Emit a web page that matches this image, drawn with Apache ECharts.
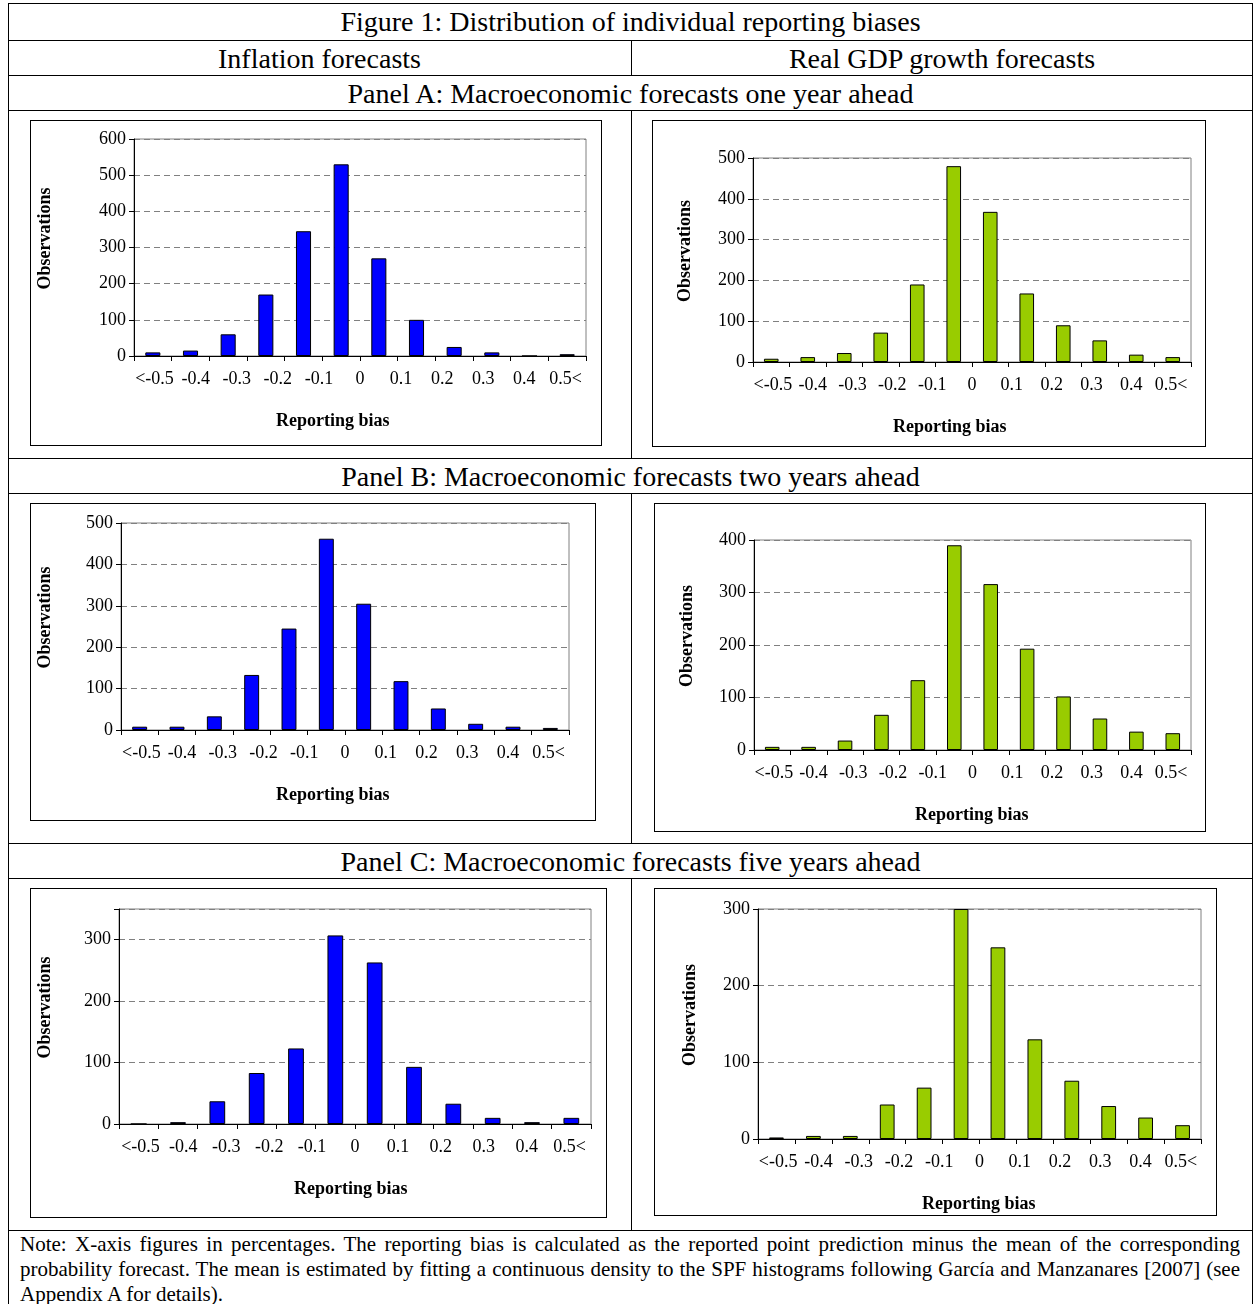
<!DOCTYPE html>
<html>
<head>
<meta charset="utf-8">
<script src="https://cdn.jsdelivr.net/npm/echarts@6/dist/echarts.min.js"></script>
<style>
body { margin: 0; background: #fff; font-family: 'Liberation Serif', 'Times New Roman', serif; }
.line { position: absolute; background: #000; }
.cap { position: absolute; text-align: center; font-size: 28px; line-height: 35px; }
.box { position: absolute; border: 1px solid #000; box-sizing: border-box; }
.note { position: absolute; left: 20px; top: 1232px; width: 1220px; font-size: 21px; line-height: 25px; text-align: justify; }
</style>
</head>
<body>
<div class="line" style="left:8px;top:3px;width:1245px;height:1px"></div>
<div class="line" style="left:8px;top:3px;width:1px;height:1301px"></div>
<div class="line" style="left:1252px;top:3px;width:1px;height:1301px"></div>
<div class="line" style="left:8px;top:40px;width:1245px;height:1px"></div>
<div class="line" style="left:8px;top:75px;width:1245px;height:1px"></div>
<div class="line" style="left:8px;top:110px;width:1245px;height:1px"></div>
<div class="line" style="left:8px;top:458px;width:1245px;height:1px"></div>
<div class="line" style="left:8px;top:493px;width:1245px;height:1px"></div>
<div class="line" style="left:8px;top:843px;width:1245px;height:1px"></div>
<div class="line" style="left:8px;top:878px;width:1245px;height:1px"></div>
<div class="line" style="left:8px;top:1230px;width:1245px;height:1px"></div>
<div class="line" style="left:631px;top:40px;width:1px;height:35px"></div>
<div class="line" style="left:631px;top:110px;width:1px;height:348px"></div>
<div class="line" style="left:631px;top:493px;width:1px;height:350px"></div>
<div class="line" style="left:631px;top:878px;width:1px;height:352px"></div>
<div class="cap" style="left:8px;top:4px;width:1245px">Figure 1: Distribution of individual reporting biases</div>
<div class="cap" style="left:8px;top:41px;width:623px">Inflation forecasts</div>
<div class="cap" style="left:631px;top:41px;width:622px">Real GDP growth forecasts</div>
<div class="cap" style="left:8px;top:76px;width:1245px">Panel A: Macroeconomic forecasts one year ahead</div>
<div class="cap" style="left:8px;top:459px;width:1245px">Panel B: Macroeconomic forecasts two years ahead</div>
<div class="cap" style="left:8px;top:844px;width:1245px">Panel C: Macroeconomic forecasts five years ahead</div>
<div class="note">Note: X-axis figures in percentages. The reporting bias is calculated as the reported point prediction minus the mean of the corresponding probability forecast. The mean is estimated by fitting a continuous density to the SPF histograms following García and Manzanares [2007] (see Appendix A for details).</div>
<div id="c0" class="box"></div>
<div id="c1" class="box"></div>
<div id="c2" class="box"></div>
<div id="c3" class="box"></div>
<div id="c4" class="box"></div>
<div id="c5" class="box"></div>
<script>
var bins = ['b1', 'b2', 'b3', 'b4', 'b5', 'b6', 'b7', 'b8', 'b9', 'b10', 'b11', 'b12'];
var tickLabels = ['<-0.5', '-0.4', '-0.3', '-0.2', '-0.1', '0', '0.1', '0.2', '0.3', '0.4', '0.5<'];
var inflA = [10, 15, 60, 170, 345, 530, 270, 100, 25, 10, 0, 5];
var gdpA = [8, 12, 22, 72, 190, 480, 368, 168, 90, 53, 18, 12];
var inflB = [8, 8, 33, 133, 245, 462, 305, 118, 52, 15, 8, 5];
var gdpB = [6, 6, 18, 67, 133, 390, 316, 193, 102, 60, 35, 32];
var inflC = [0, 3, 37, 83, 123, 307, 263, 93, 33, 10, 3, 10];
var gdpC = [2, 4, 4, 45, 67, 300, 250, 130, 76, 43, 28, 18];

var blue = '#0000ff';
var green = '#99cc00';

// box: x, y, w, h ; plot: x1, y1, x2, y2 (page coords)
var charts = [
    { data: inflA, color: blue, box: [30, 120, 572, 326], plot: [133, 138, 585, 355], max: 600, yName: 35, xName: 300 },
    { data: gdpA, color: green, box: [652, 120, 554, 327], plot: [752, 157, 1190, 361], max: 500, yName: 675, xName: 295 },
    { data: inflB, color: blue, box: [30, 503, 566, 318], plot: [120, 522, 568, 729], max: 500, yName: 35, xName: 300 },
    { data: gdpB, color: green, box: [654, 503, 552, 329], plot: [753, 539, 1190, 749], max: 400, yName: 677, xName: 315 },
    { data: inflC, color: blue, box: [30, 888, 577, 330], plot: [118, 908, 590, 1123], max: 350, yName: 35, xName: 318 },
    { data: gdpC, color: green, box: [654, 888, 563, 328], plot: [757, 908, 1200, 1138], max: 300, yName: 680, xName: 322 }
];

var font = 'Liberation Serif';

charts.forEach(function (c, i) {
    var el = document.getElementById('c' + i);
    el.style.left = c.box[0] + 'px';
    el.style.top = c.box[1] + 'px';
    el.style.width = c.box[2] + 'px';
    el.style.height = c.box[3] + 'px';
    var chart = echarts.init(el);
    var bx = c.box[0], by = c.box[1];
    var plotH = c.plot[3] - c.plot[1];
    chart.setOption({
        animation: false,
        textStyle: { fontFamily: font },
        grid: {
            left: c.plot[0] - bx,
            top: c.plot[1] - by,
            width: c.plot[2] - c.plot[0],
            height: plotH,
            show: true,
            borderColor: '#808080',
            borderWidth: 1
        },
        xAxis: [{
            type: 'category',
            data: bins,
            axisLine: { lineStyle: { color: '#000' } },
            axisTick: { show: true, length: 5, lineStyle: { color: '#000' } },
            axisLabel: { show: false }
        }, {
            type: 'category',
            data: tickLabels,
            position: 'bottom',
            axisLine: { show: false },
            axisTick: { show: false },
            axisLabel: { color: '#000', fontSize: 18, fontFamily: font, margin: 14, interval: 0 }
        }],
        yAxis: {
            type: 'value',
            min: 0,
            max: c.max,
            interval: 100,
            axisLine: { show: true, lineStyle: { color: '#000' } },
            axisTick: { show: true, length: 5, lineStyle: { color: '#000' } },
            axisLabel: {
                color: '#000', fontSize: 18, fontFamily: font, margin: 8,
                formatter: function (v) { return v % 100 === 0 ? v : ''; }
            },
            splitLine: { lineStyle: { color: '#808080', type: [6, 4] } }
        },
        graphic: [{
            type: 'text',
            left: c.yName - bx,
            top: c.plot[1] - by + plotH / 2 - 60,
            rotation: Math.PI / 2,
            style: { text: 'Observations', font: 'bold 18px ' + font, fill: '#000' }
        }, {
            type: 'text',
            left: c.xName - 55,
            top: c.plot[3] - by + 56,
            style: { text: 'Reporting bias', font: 'bold 18px ' + font, fill: '#000' }
        }],
        series: [{
            type: 'bar',
            xAxisIndex: 0,
            data: c.data,
            barWidth: '40%',
            itemStyle: { color: c.color, borderColor: '#000', borderWidth: 1 }
        }]
    });
});
</script>
</body>
</html>
